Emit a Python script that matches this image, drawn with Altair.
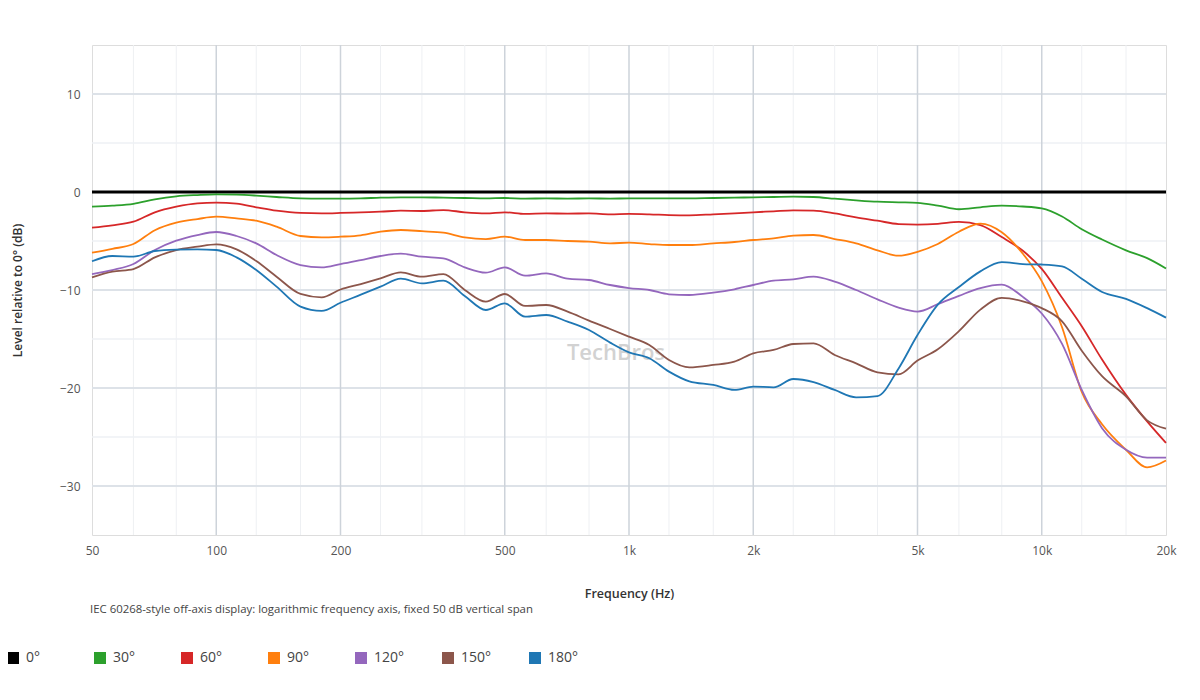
import altair as alt
import pandas as pd

# ---- data ----
freqs = [50, 56, 63, 71, 80, 90, 100,
         112, 125, 140, 160, 180, 200,
         224, 250, 280, 315, 355, 400, 450, 500,
         560, 630, 710, 800, 900, 1000,
         1120, 1250, 1400, 1600, 1800, 2000,
         2240, 2500, 2800, 3150, 3550, 4000, 4500, 5000,
         5600, 6300, 7100, 8000, 9000, 10000,
         11200, 12500, 14000, 16000, 18000, 20000]

ref_freqs = [50, 20000]
ref_0 = [0, 0]

deg_30 = [-1.5, -1.4, -1.22, -0.75, -0.44, -0.31, -0.24,
          -0.27, -0.37, -0.51, -0.65, -0.68, -0.68,
          -0.65, -0.58, -0.54, -0.54, -0.58, -0.61, -0.65, -0.61,
          -0.68, -0.65, -0.68, -0.65, -0.68, -0.65,
          -0.65, -0.65, -0.65, -0.61, -0.58, -0.54,
          -0.51, -0.48, -0.51, -0.68, -0.85, -0.99, -1.05, -1.1,
          -1.38, -1.76, -1.56, -1.4, -1.48, -1.67,
          -2.5, -3.8, -4.85, -5.95, -6.75, -7.8]

deg_60 = [-3.64, -3.4, -3.03, -2.07, -1.5, -1.16, -1.09,
          -1.19, -1.56, -1.91, -2.14, -2.18, -2.14,
          -2.07, -2.01, -1.91, -1.94, -1.84, -2.07, -2.18, -2.07,
          -2.24, -2.18, -2.21, -2.18, -2.28, -2.24,
          -2.28, -2.35, -2.38, -2.28, -2.18, -2.07,
          -1.97, -1.87, -1.9, -2.18, -2.59, -2.93, -3.27, -3.32,
          -3.25, -3.05, -3.38, -4.6, -6.0, -7.85,
          -10.8, -13.7, -17.1, -20.7, -23.4, -25.6]

deg_90 = [-6.19, -5.8, -5.31, -3.9, -3.13, -2.76, -2.52,
          -2.69, -2.93, -3.54, -4.49, -4.63, -4.56,
          -4.42, -4.05, -3.88, -4.0, -4.15, -4.63, -4.8, -4.56,
          -4.9, -4.9, -5.0, -5.07, -5.24, -5.17,
          -5.31, -5.41, -5.41, -5.24, -5.1, -4.9,
          -4.73, -4.46, -4.39, -4.8, -5.24, -5.95, -6.5, -6.1,
          -5.3, -4.05, -3.22, -4.1, -6.3, -9.1,
          -13.8, -20.4, -23.7, -26.3, -28.1, -27.4]

deg_120 = [-8.37, -7.96, -7.35, -5.92, -4.97, -4.39, -4.08,
           -4.49, -5.24, -6.43, -7.45, -7.69, -7.35,
           -6.94, -6.53, -6.29, -6.6, -6.77, -7.69, -8.23, -7.69,
           -8.54, -8.3, -8.84, -8.98, -9.49, -9.8,
           -10.0, -10.44, -10.51, -10.27, -9.93, -9.49,
           -9.05, -8.91, -8.64, -9.15, -10.0, -10.95, -11.8, -12.2,
           -11.45, -10.6, -9.8, -9.45, -10.7, -12.4,
           -15.5, -20.2, -24.1, -26.3, -27.1, -27.1]

deg_150 = [-8.71, -8.13, -7.86, -6.67, -5.92, -5.58, -5.34,
           -5.85, -7.04, -8.64, -10.4, -10.75, -9.95,
           -9.39, -8.81, -8.2, -8.64, -8.37, -10.0, -11.19, -10.41,
           -11.63, -11.53, -12.21, -13.13, -13.98, -14.76,
           -15.61, -17.14, -17.9, -17.65, -17.31, -16.46,
           -16.12, -15.51, -15.44, -16.63, -17.48, -18.4, -18.6, -17.2,
           -16.05, -14.2, -12.0, -10.8, -11.15, -11.85,
           -13.2, -16.2, -18.8, -20.85, -23.3, -24.15]

deg_180 = [-7.07, -6.53, -6.6, -6.02, -5.88, -5.85, -5.92,
           -6.67, -7.96, -9.66, -11.7, -12.14, -11.3,
           -10.48, -9.66, -8.84, -9.32, -9.05, -10.61, -12.04, -11.36,
           -12.72, -12.55, -13.23, -14.08, -15.37, -16.36,
           -16.97, -18.33, -19.32, -19.69, -20.2, -19.86,
           -19.93, -19.08, -19.39, -20.2, -20.95, -20.82, -18.0, -14.6,
           -11.5, -9.7, -8.1, -7.15, -7.35, -7.4,
           -7.6, -8.85, -10.2, -10.9, -11.85, -12.82]

angles = ["0°", "30°", "60°", "90°", "120°", "150°", "180°"]
colors = ["#000000", "#2ca02c", "#d62728", "#ff7f0e", "#9467bd", "#8c564b", "#1f77b4"]

x_ticks = [50, 100, 200, 500, 1000, 2000, 5000, 10000, 20000]
y_ticks = [-30, -20, -10, 0, 10]
major_freq_grid = [100, 200, 500, 1000, 2000, 5000, 10000]
minor_freq_grid = [63, 80, 125, 160, 250, 315, 400, 630, 800, 1250, 1600,
                   2500, 3150, 4000, 6300, 8000, 12500, 16000]
major_db_grid = [-30, -20, -10, 10]
minor_db_grid = [-25, -15, -5, 5]

caption = "IEC 60268-style off-axis display: logarithmic frequency axis, fixed 50 dB vertical span"
watermark = "TechBros"

# ---- tables ----
series = {"30°": deg_30, "60°": deg_60, "90°": deg_90,
          "120°": deg_120, "150°": deg_150, "180°": deg_180}
rows = []
for name, vals in series.items():
    assert len(vals) == len(freqs), name
    for f, v in zip(freqs, vals):
        rows.append({"freq": f, "level": v, "angle": name})
df = pd.DataFrame(rows)
df0 = pd.DataFrame({"freq": ref_freqs, "level": ref_0, "angle": ["0°"] * len(ref_freqs)})

FONT = "Open Sans"

xscale = alt.Scale(type="log", domain=[50, 20000], nice=False)
yscale = alt.Scale(domain=[-35, 15], nice=False, zero=False)

xaxis = alt.Axis(values=x_ticks,
                 labelExpr="datum.value >= 1000 ? (datum.value / 1000) + 'k' : '' + datum.value",
                 grid=False, ticks=False, domain=False, labelFlush=False,
                 labelPadding=10, labelFontSize=12, labelColor="#555555", labelFont=FONT,
                 title="Frequency (Hz)", titleFontSize=12.5, titleFontWeight=600,
                 titleColor="#333333", titleFont=FONT, titleY=58, titleBaseline="middle")
yaxis = alt.Axis(values=y_ticks, grid=False, ticks=False, domain=False,
                 labelPadding=12, labelFontSize=12, labelColor="#555555", labelFont=FONT,
                 title="Level relative to 0° (dB)", titleFontSize=12, titleFontWeight=600,
                 titleColor="#333333", titleFont=FONT, titleX=-75, titleY=245,
                 titleAngle=-90, titleBaseline="middle", titleAlign="center")

color = alt.Color("angle:N",
                  scale=alt.Scale(domain=angles, range=colors),
                  legend=alt.Legend(orient="none", legendX=-86, legendY=606,
                                    direction="horizontal", columns=7, title=None,
                                    symbolType="square", symbolSize=36, symbolStrokeWidth=6,
                                    labelFontSize=14, labelColor="#444444", labelFont=FONT,
                                    labelOffset=6, columnPadding=28, gridAlign="all"))

X = lambda f: alt.X(f, scale=xscale, axis=xaxis)
Y = lambda f: alt.Y(f, scale=yscale, axis=yaxis)

minor_v = alt.Chart(pd.DataFrame({"gf": minor_freq_grid})).mark_rule(
    color="#eef0f3", strokeWidth=1).encode(x=X("gf:Q"))
major_v = alt.Chart(pd.DataFrame({"gf": major_freq_grid})).mark_rule(
    color="#cdd3da", strokeWidth=1.5).encode(x=X("gf:Q"))
minor_h = alt.Chart(pd.DataFrame({"gd": minor_db_grid})).mark_rule(
    color="#eef1f4", strokeWidth=1.5).encode(y=Y("gd:Q"))
major_h = alt.Chart(pd.DataFrame({"gd": major_db_grid})).mark_rule(
    color="#dde2e8", strokeWidth=2).encode(y=Y("gd:Q"))

wm = alt.Chart(pd.DataFrame({"t": [watermark]})).mark_text(
    font=FONT, fontSize=22, color="#d2d2d2", align="center", baseline="middle",
    fontWeight=600).encode(x=alt.value(524), y=alt.value(308), text="t:N")

zero_line = alt.Chart(df0).mark_line().encode(
    x=X("freq:Q"), y=Y("level:Q"), color=color, strokeWidth=alt.value(3))

lines = alt.Chart(df).mark_line(interpolate="monotone").encode(
    x=X("freq:Q"), y=Y("level:Q"), color=color, strokeWidth=alt.value(1.8))

cap = alt.Chart(pd.DataFrame({"t": [caption]})).mark_text(
    font=FONT, fontSize=11.4, color="#444444", align="left", baseline="middle").encode(
    x=alt.value(-2), y=alt.value(565), text="t:N")

chart = alt.layer(minor_v, minor_h, major_h, major_v, wm, zero_line, lines, cap).properties(
    width=1074, height=490,
    padding={"left": 84, "top": 37, "right": 26, "bottom": 140},
    autosize=alt.AutoSizeParams(type="none"),
).configure_view(stroke="#b9c0c8", strokeWidth=2).configure(font=FONT, background="white")

chart.save("out.html", embed_options={"renderer": "svg", "actions": False})
